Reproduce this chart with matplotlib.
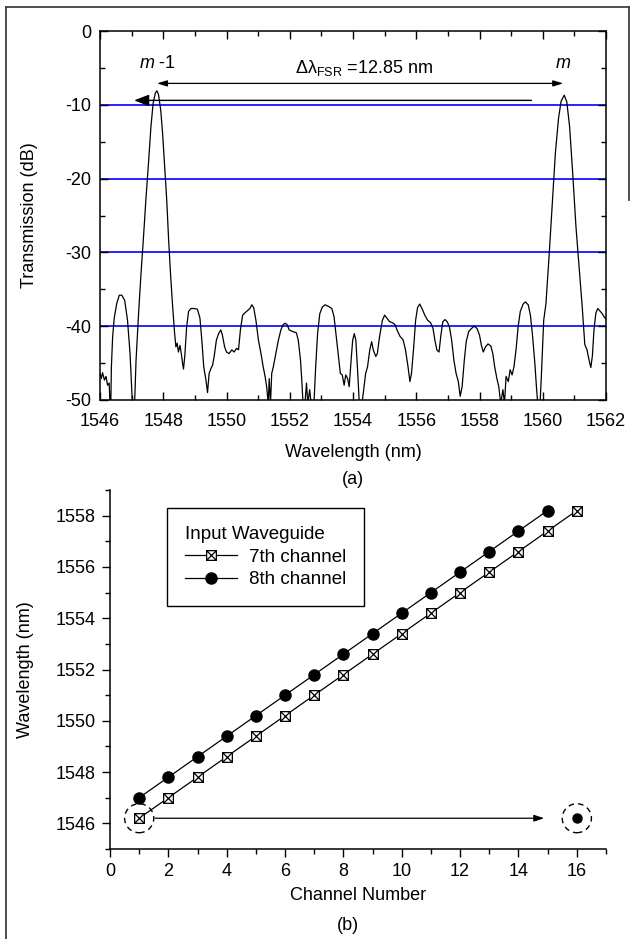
import matplotlib
matplotlib.use("Agg")
import matplotlib.pyplot as plt
from matplotlib.path import Path
from matplotlib.patches import Ellipse
from matplotlib.lines import Line2D
from matplotlib.ticker import MultipleLocator

plt.rcParams['font.family'] = ['Liberation Sans', 'DejaVu Sans']
plt.rcParams['axes.unicode_minus'] = False
plt.rcParams['mathtext.fontset'] = 'custom'
plt.rcParams['mathtext.rm'] = 'Liberation Sans'
plt.rcParams['mathtext.it'] = 'Liberation Sans:italic'
plt.rcParams['mathtext.bf'] = 'Liberation Sans:bold'

FS = 13

# ---- (a) measured transmission spectrum ----
wavelength = [
    1546.00, 1546.04, 1546.08, 1546.14, 1546.19, 1546.24, 1546.29, 1546.32, 1546.34, 1546.36,
    1546.40, 1546.45, 1546.53, 1546.61, 1546.69, 1546.78, 1546.87, 1546.95, 1547.00, 1547.03,
    1547.09, 1547.14, 1547.22, 1547.29, 1547.37, 1547.45, 1547.54, 1547.61, 1547.68, 1547.75,
    1547.80, 1547.85, 1547.92, 1547.98, 1548.04, 1548.11, 1548.17, 1548.23, 1548.29, 1548.36,
    1548.40, 1548.44, 1548.48, 1548.53, 1548.57, 1548.61, 1548.64, 1548.68, 1548.74, 1548.80,
    1548.88, 1548.98, 1549.08, 1549.16, 1549.22, 1549.28, 1549.35, 1549.40, 1549.45, 1549.51,
    1549.56, 1549.61, 1549.68, 1549.75, 1549.82, 1549.87, 1549.94, 1550.00, 1550.08, 1550.17,
    1550.24, 1550.32, 1550.38, 1550.44, 1550.51, 1550.58, 1550.66, 1550.74, 1550.80, 1550.86,
    1550.93, 1551.01, 1551.09, 1551.16, 1551.22, 1551.27, 1551.32, 1551.35, 1551.39, 1551.43,
    1551.48, 1551.56, 1551.64, 1551.72, 1551.79, 1551.85, 1551.92, 1551.98, 1552.08, 1552.21,
    1552.27, 1552.34, 1552.38, 1552.42, 1552.47, 1552.53, 1552.57, 1552.63, 1552.69, 1552.76,
    1552.82, 1552.88, 1552.95, 1553.03, 1553.12, 1553.22, 1553.33, 1553.40, 1553.47, 1553.54,
    1553.60, 1553.66, 1553.72, 1553.77, 1553.83, 1553.88, 1553.94, 1553.99, 1554.04, 1554.09,
    1554.15, 1554.20, 1554.27, 1554.35, 1554.40, 1554.46, 1554.53, 1554.59, 1554.64, 1554.72,
    1554.77, 1554.84, 1554.93, 1555.00, 1555.07, 1555.16, 1555.24, 1555.33, 1555.41, 1555.49,
    1555.58, 1555.66, 1555.74, 1555.80, 1555.85, 1555.92, 1555.98, 1556.04, 1556.11, 1556.19,
    1556.27, 1556.36, 1556.45, 1556.53, 1556.59, 1556.65, 1556.72, 1556.78, 1556.84, 1556.91,
    1556.98, 1557.05, 1557.12, 1557.19, 1557.26, 1557.33, 1557.39, 1557.45, 1557.52, 1557.58,
    1557.66, 1557.75, 1557.83, 1557.92, 1558.00, 1558.06, 1558.12, 1558.19, 1558.27, 1558.36,
    1558.42, 1558.48, 1558.55, 1558.61, 1558.67, 1558.74, 1558.79, 1558.84, 1558.91, 1558.97,
    1559.03, 1559.09, 1559.16, 1559.22, 1559.29, 1559.38, 1559.45, 1559.54, 1559.61, 1559.68,
    1559.75, 1559.80, 1559.85, 1559.91, 1559.96, 1560.03, 1560.10, 1560.20, 1560.30, 1560.40,
    1560.50, 1560.58, 1560.68, 1560.76, 1560.85, 1560.95, 1561.05, 1561.15, 1561.25, 1561.33,
    1561.40, 1561.46, 1561.52, 1561.57, 1561.62, 1561.68, 1561.74, 1561.80, 1561.88, 1561.95,
    1562.00,
]
transmission = [
    -46.4, -47.1, -46.3, -47.3, -46.8, -48.0, -47.7, -51.0, -51.0, -45.5,
    -41.4, -38.9, -36.9, -35.8, -35.8, -36.5, -39.2, -43.7, -48.2, -51.0,
    -51.0, -44.6, -38.3, -33.3, -28.3, -22.9, -17.5, -13.0, -9.8, -8.4,
    -8.1, -8.6, -10.7, -13.9, -18.0, -22.9, -28.3, -32.9, -36.9, -41.0,
    -42.8, -42.3, -43.5, -42.6, -43.7, -45.0, -45.8, -44.1, -40.1, -38.0,
    -37.6, -37.6, -37.7, -38.9, -41.9, -45.5, -47.3, -49.0, -46.4, -45.7,
    -45.3, -44.1, -41.9, -41.0, -40.5, -41.2, -42.8, -43.5, -43.7, -43.2,
    -43.5, -43.0, -43.2, -40.5, -38.5, -38.2, -37.9, -37.6, -37.1, -37.5,
    -39.2, -41.9, -43.7, -45.5, -46.8, -48.2, -50.5, -47.1, -50.5, -46.4,
    -45.5, -43.7, -41.9, -40.5, -39.8, -39.6, -39.8, -40.5, -40.7, -40.9,
    -41.9, -44.6, -47.3, -50.5, -51.0, -47.7, -50.5, -48.6, -51.0, -51.0,
    -45.5, -41.0, -38.3, -37.4, -37.1, -37.3, -37.6, -38.7, -41.4, -44.1,
    -46.4, -46.6, -48.0, -46.6, -47.1, -48.2, -44.6, -41.9, -41.0, -41.9,
    -46.4, -50.5, -51.0, -48.2, -46.4, -45.5, -43.2, -42.1, -43.2, -44.1,
    -43.7, -41.4, -39.2, -38.5, -38.9, -39.4, -39.5, -39.8, -40.7, -41.4,
    -41.8, -43.2, -45.5, -47.5, -46.4, -42.8, -39.2, -37.5, -37.0, -37.7,
    -38.5, -39.2, -39.5, -40.3, -41.9, -43.2, -43.5, -41.2, -39.4, -39.1,
    -39.4, -40.1, -41.9, -44.6, -46.4, -47.5, -49.5, -48.2, -44.6, -42.1,
    -40.7, -40.3, -40.0, -40.3, -41.2, -42.6, -43.5, -42.8, -42.4, -42.7,
    -43.7, -45.5, -47.1, -48.2, -50.5, -48.6, -50.5, -46.8, -47.5, -45.9,
    -46.6, -45.5, -43.0, -40.1, -38.0, -37.0, -36.7, -37.1, -38.5, -41.4,
    -45.0, -48.2, -51.0, -51.0, -46.4, -39.2, -37.0, -30.5, -23.5, -16.5,
    -11.8, -9.5, -8.7, -9.6, -13.0, -19.5, -26.5, -32.0, -37.5, -42.5,
    -43.2, -44.5, -45.6, -44.0, -40.5, -38.2, -37.6, -37.9, -38.3, -38.8,
    -39.0,
]
ref_levels = [-10, -20, -30, -40]
peak_left = 1547.80
peak_right = 1560.65
fsr_text = r'$\mathrm{\Delta\lambda}_{\mathrm{FSR}}$ =12.85 nm'

# ---- (b) peak wavelength per output channel ----
channels = list(range(1, 17))
ch7_wavelength = [1546.2, 1547.0, 1547.8, 1548.6, 1549.4, 1550.2, 1551.0, 1551.8,
                  1552.6, 1553.4, 1554.2, 1555.0, 1555.8, 1556.6, 1557.4, 1558.2]
ch8_wavelength = [1547.0, 1547.8, 1548.6, 1549.4, 1550.2, 1551.0, 1551.8, 1552.6,
                  1553.4, 1554.2, 1555.0, 1555.8, 1556.6, 1557.4, 1558.2, 1546.2]

W, H = 632, 939
fig = plt.figure(figsize=(W / 100, H / 100), dpi=100)


def frac_box(left, top, right, bottom):
    return [left / W, 1 - bottom / H, (right - left) / W, (bottom - top) / H]


# ================= panel (a) =================
ax1 = fig.add_axes(frac_box(100, 31, 606, 400))
for lev in ref_levels:
    ax1.axhline(lev, color='#0000ff', lw=1.2, zorder=1)
ax1.plot(wavelength, transmission, color='black', lw=0.9, zorder=3)
ax1.set_xlim(1546, 1562)
ax1.set_ylim(-50, 0)
ax1.xaxis.set_major_locator(MultipleLocator(2))
ax1.xaxis.set_minor_locator(MultipleLocator(1))
ax1.yaxis.set_major_locator(MultipleLocator(10))
ax1.yaxis.set_minor_locator(MultipleLocator(5))
ax1.tick_params(which='both', direction='in', top=True, right=True, width=1,
                labelsize=FS, color='black')
ax1.tick_params(which='major', length=6)
ax1.tick_params(which='minor', length=3.5)
ax1.tick_params(axis='x', pad=9)
ax1.tick_params(axis='y', pad=6)
for s in ax1.spines.values():
    s.set_linewidth(1.1)
ax1.set_xlabel('Wavelength (nm)', fontsize=FS)
ax1.set_ylabel('Transmission (dB)', fontsize=FS)
ax1.xaxis.set_label_coords(0.5, -0.118)
ax1.yaxis.set_label_coords(-0.123, 0.5)

ax1.text(peak_left - 0.56, -5.06, r'$m$ -1', fontsize=FS, ha='left', va='baseline')
ax1.text(peak_right - 0.01, -5.06, r'$m$', fontsize=FS, ha='center', va='baseline')
ax1.text(1554.36, -5.7, fsr_text, fontsize=FS, ha='center', va='baseline')
ax1.annotate('', xy=(peak_right, -7.1), xytext=(peak_left, -7.1),
             arrowprops=dict(arrowstyle='<|-|>,head_length=0.6,head_width=0.18',
                             mutation_scale=10, lw=0.9, color='black',
                             shrinkA=0, shrinkB=0))
ax1.annotate('', xy=(1547.08, -9.4), xytext=(1559.64, -9.4),
             arrowprops=dict(arrowstyle='-|>,head_length=0.9,head_width=0.35',
                             mutation_scale=10, lw=1.0, color='black',
                             shrinkA=0, shrinkB=0))
fig.text(353 / W, 1 - 480 / H, '(a)', fontsize=FS, ha='center', va='center')

# ================= panel (b) =================
ax2 = fig.add_axes(frac_box(110, 490, 606, 849))

box_x = Path([(-1, -1), (1, -1), (1, 1), (-1, 1), (-1, -1),
              (-1, -1), (1, 1), (-1, 1), (1, -1)],
             [Path.MOVETO, Path.LINETO, Path.LINETO, Path.LINETO, Path.CLOSEPOLY,
              Path.MOVETO, Path.LINETO, Path.MOVETO, Path.LINETO])

ax2.plot(channels, ch7_wavelength, color='black', lw=0.9, marker=box_x,
         markersize=7, markerfacecolor='white', markeredgecolor='black',
         markeredgewidth=0.9, label='7th channel', zorder=3)
ax2.plot(channels[:15], ch8_wavelength[:15], color='black', lw=0.9, marker='o',
         markersize=8, markerfacecolor='black', markeredgecolor='black',
         label='8th channel', zorder=3)
ax2.plot(channels[15:], ch8_wavelength[15:], linestyle='none', marker='o',
         markersize=6.5, color='black', zorder=3)

for cx, cy in [(channels[0], ch7_wavelength[0]), (channels[15], ch8_wavelength[15])]:
    ax2.add_patch(Ellipse((cx, cy), width=1.0, height=1.13, fill=False,
                          edgecolor='black', lw=1.0, linestyle=(0, (4, 3)), zorder=2))
ax2.annotate('', xy=(14.88, ch8_wavelength[15]), xytext=(1.55, ch7_wavelength[0]),
             arrowprops=dict(arrowstyle='-|>,head_length=0.6,head_width=0.2',
                             mutation_scale=10, lw=0.9, color='black',
                             shrinkA=0, shrinkB=0))

ax2.set_xlim(0, 17)
ax2.set_ylim(1545, 1559)
ax2.xaxis.set_major_locator(MultipleLocator(2))
ax2.xaxis.set_minor_locator(MultipleLocator(1))
ax2.yaxis.set_major_locator(MultipleLocator(2))
ax2.yaxis.set_minor_locator(MultipleLocator(1))
ax2.spines['top'].set_visible(False)
ax2.spines['right'].set_visible(False)
for s in ('left', 'bottom'):
    ax2.spines[s].set_linewidth(1.1)
ax2.tick_params(which='both', direction='out', width=1, labelsize=FS)
ax2.tick_params(which='major', length=6)
ax2.tick_params(which='minor', length=3.5)
ax2.tick_params(axis='x', pad=4)
ax2.tick_params(axis='y', pad=4)
ax2.set_xlabel('Channel Number', fontsize=FS)
ax2.set_ylabel('Wavelength (nm)', fontsize=FS)
ax2.xaxis.set_label_coords(0.5, -0.106)
ax2.yaxis.set_label_coords(-0.153, 0.5)

leg = ax2.legend(loc='upper left', bbox_to_anchor=(0.115, 0.95), fontsize=13.5,
                 title='Input Waveguide', title_fontsize=13.5, alignment='left',
                 frameon=True, fancybox=False, edgecolor='black', framealpha=1,
                 borderpad=0.95, handlelength=2.8, handletextpad=0.6,
                 labelspacing=0.3, borderaxespad=0)
leg.get_frame().set_linewidth(1.0)
fig.text(348 / W, 1 - 925 / H, '(b)', fontsize=FS, ha='center', va='center')

# outer frame
frame_kw = dict(color='#404040', lw=1.3)
fig.add_artist(Line2D([5.5 / W, 5.5 / W], [1 - 7 / H, 0], **frame_kw))
fig.add_artist(Line2D([5.5 / W, 629 / W], [1 - 7 / H, 1 - 7 / H], **frame_kw))
fig.add_artist(Line2D([629 / W, 629 / W], [1 - 7 / H, 1 - 200 / H], **frame_kw))

fig.savefig('out.png', dpi=100)
